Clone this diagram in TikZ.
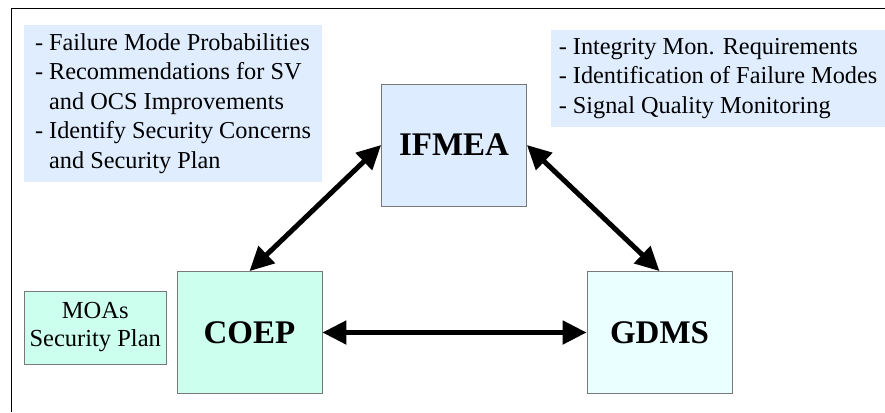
\documentclass[tikz,border=0pt]{standalone}
\usepackage{fontspec}
\setmainfont{Liberation Serif}
\usetikzlibrary{positioning, arrows.meta}

\definecolor{noteblue}{RGB}{223,237,255}
\definecolor{boxblue}{RGB}{222,236,255}
\definecolor{boxmint}{RGB}{204,255,238}
\definecolor{boxcyan}{RGB}{234,255,255}
\definecolor{boxedge}{RGB}{120,120,120}

\begin{document}
\begin{tikzpicture}[x=1pt, y=-1pt, >={Triangle[length=24pt, width=23pt]},
    block/.style={rectangle, draw=boxedge, line width=0.8pt, minimum width=145pt,
      minimum height=122pt, font=\fontsize{33}{36}\selectfont\bfseries},
    note/.style={rectangle, align=left, inner sep=0pt, font=\fontsize{24.3}{29.5}\selectfont},
    link/.style={<->, line width=5pt}]
  \useasboundingbox (0,0) rectangle (885,412);
  \draw[line width=1pt] (885,9) -- (11,9) -- (11,412);

  % notes
  \node[note, fill=noteblue, minimum width=298pt, minimum height=157pt] (fmnotes) at (173,103.5)
    {- Failure Mode Probabilities\\
     - Recommendations for SV\\
     \phantom{- }and OCS Improvements\\
     - Identify Security Concerns\\
     \phantom{- }and Security Plan};
  \node[note, fill=noteblue, minimum width=334pt, minimum height=97pt] (imnotes) at (718,78.5)
    {- Integrity Mon. Requirements\\
     - Identification of Failure Modes\\
     - Signal Quality Monitoring};

  % blocks
  \node[block, fill=boxblue] (ifmea) at (454,145) {IFMEA};
  \node[block, fill=boxmint] (coep) at (249.5,332.5) {COEP};
  \node[block, fill=boxcyan] (gdms) at (659.5,332.5) {GDMS};
  \node[rectangle, draw=boxedge, line width=0.8pt, fill=boxmint, align=center,
    minimum width=142pt, minimum height=73pt, inner sep=2pt, font=\fontsize{24.5}{28}\selectfont]
    (moas) [left=10pt of coep, yshift=5pt] {MOAs\\Security Plan};

  \draw[link] (ifmea.west) -- (coep.north);
  \draw[link] (ifmea.east) -- (gdms.north);
  \draw[link] (coep.east) -- (gdms.west);
\end{tikzpicture}
\end{document}
